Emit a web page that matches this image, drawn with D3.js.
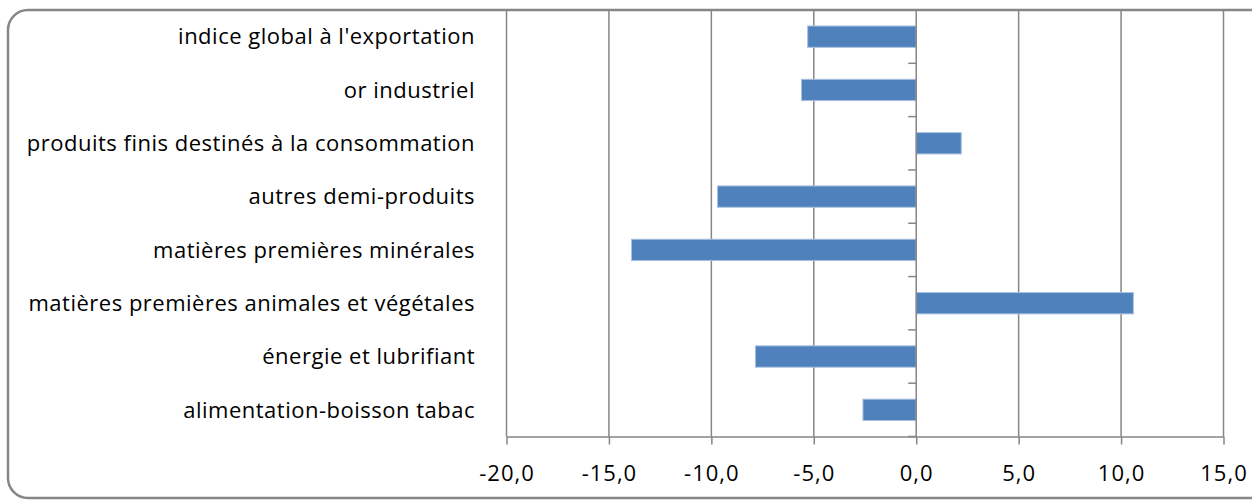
<!DOCTYPE html>
<html lang="fr">
<head>
    <meta charset="UTF-8">
    <title>Indices à l'exportation</title>
    <script src="https://d3js.org/d3.v7.min.js"></script>
    <style>
        body { margin: 0; background: #fff; }
        text { font-family: "Open Sans", sans-serif; fill: #000; }
    </style>
</head>
<body>
    <div id="chart"></div>
    <script>
        // categories, bottom to top as in the reference
        const categories = [
            "alimentation-boisson tabac",
            "énergie et lubrifiant",
            "matières premières animales et végétales",
            "matières premières minérales",
            "autres demi-produits",
            "produits finis destinés à la consommation",
            "or industriel",
            "indice global à l'exportation"
        ];
        const values = [-2.6, -7.85, 10.6, -13.9, -9.7, 2.2, -5.6, -5.3];
        const xTicks = [-20, -15, -10, -5, 0, 5, 10, 15];

        const W = 1252, H = 501;
        const plot = { left: 506.5, right: 1223.5, top: 10, bottom: 436.5 };

        const svg = d3.select("#chart").append("svg")
            .attr("width", W).attr("height", H);

        // outer frame with rounded corners
        svg.append("rect")
            .attr("x", 8).attr("y", 10)
            .attr("width", 1262).attr("height", 488)
            .attr("rx", 20).attr("ry", 20)
            .attr("fill", "none")
            .attr("stroke", "#868686")
            .attr("stroke-width", 2.5);

        const x = d3.scaleLinear().domain([-20, 15]).range([plot.left, plot.right]);
        const y = d3.scaleBand()
            .domain(categories.slice().reverse())
            .range([plot.top, plot.bottom])
            .paddingInner(0.6).paddingOuter(0.3);

        // vertical gridlines
        svg.append("g").selectAll("line")
            .data(xTicks.filter(d => d !== 0))
            .join("line")
            .attr("x1", d => x(d)).attr("x2", d => x(d))
            .attr("y1", plot.top).attr("y2", plot.bottom)
            .attr("stroke", "#868686").attr("stroke-width", 1.5);

        // bars
        svg.append("g").selectAll("rect")
            .data(categories.map((c, i) => ({ c, v: values[i] })))
            .join("rect")
            .attr("x", d => x(Math.min(0, d.v)))
            .attr("width", d => Math.abs(x(d.v) - x(0)))
            .attr("y", d => y(d.c))
            .attr("height", y.bandwidth())
            .attr("fill", "#4f81bd")
            .attr("stroke", "#a9c1e0")
            .attr("stroke-width", 1);

        // bottom value axis
        const xAxis = svg.append("g")
            .attr("transform", `translate(0,${plot.bottom})`)
            .call(d3.axisBottom(x).tickValues(xTicks)
                .tickFormat(d => d3.format(".1f")(d).replace(".", ",").replace("−", "-"))
                .tickSize(8).tickSizeOuter(0).tickPadding(21));
        xAxis.select(".domain").attr("stroke", "#868686").attr("stroke-width", 1.5);
        xAxis.selectAll(".tick line").attr("stroke", "#868686").attr("stroke-width", 1.5);
        xAxis.selectAll("text").attr("font-size", 22).attr("fill", "#000")
            .attr("letter-spacing", 1)
            .attr("font-family", "'Open Sans', sans-serif");

        // category axis at zero, ticks between categories
        const bandStep = (plot.bottom - plot.top) / categories.length;
        const catAxis = svg.append("g");
        catAxis.append("line")
            .attr("x1", x(0)).attr("x2", x(0))
            .attr("y1", plot.top).attr("y2", plot.bottom)
            .attr("stroke", "#868686").attr("stroke-width", 1.5);
        catAxis.selectAll("line.tk")
            .data(d3.range(categories.length + 1))
            .join("line").attr("class", "tk")
            .attr("x1", x(0) - 8).attr("x2", x(0))
            .attr("y1", i => plot.top + i * bandStep)
            .attr("y2", i => plot.top + i * bandStep)
            .attr("stroke", "#868686").attr("stroke-width", 1.5);

        // category labels on the left
        svg.append("g").selectAll("text")
            .data(categories)
            .join("text")
            .attr("x", 475)
            .attr("y", d => y(d) + y.bandwidth() / 2)
            .attr("dy", "0.35em")
            .attr("text-anchor", "end")
            .attr("font-size", 22)
            .attr("letter-spacing", 0.5)
            .text(d => d);
    </script>
</body>
</html>
